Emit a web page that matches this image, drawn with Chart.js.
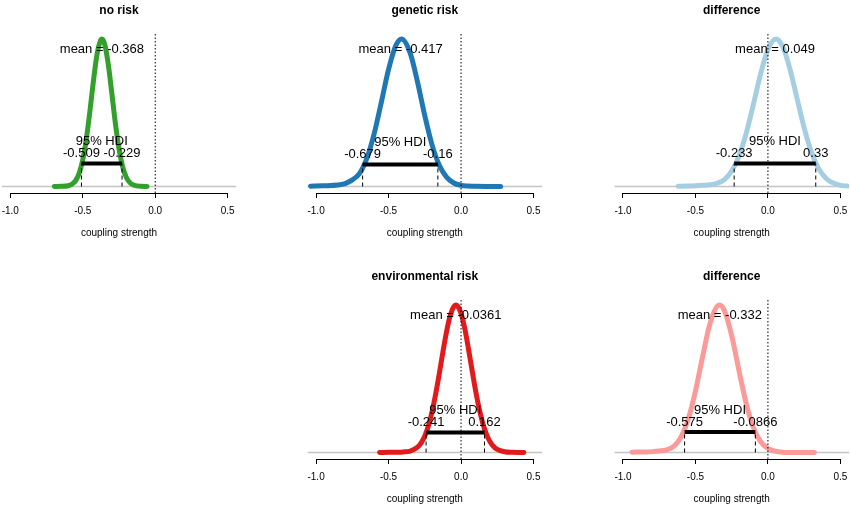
<!DOCTYPE html>
<html>
<head>
<meta charset="utf-8">
<script src="https://cdn.jsdelivr.net/npm/chart.js@4.4.1/dist/chart.umd.min.js"></script>
<style>
body { margin: 0; background: #fff; width: 850px; height: 514px; overflow: hidden; position: relative; }
canvas { position: absolute; }
</style>
</head>
<body>
<canvas id="p0" width="259" height="250" style="left:-10px;top:0px"></canvas>
<canvas id="p1" width="259" height="250" style="left:295px;top:0px"></canvas>
<canvas id="p2" width="259" height="250" style="left:602px;top:0px"></canvas>
<canvas id="p3" width="259" height="250" style="left:295px;top:266px"></canvas>
<canvas id="p4" width="259" height="250" style="left:602px;top:266px"></canvas>
<script>
// panels, in the order they appear (top row, then bottom row)
const panelTitles = ['no risk', 'genetic risk', 'difference', 'environmental risk', 'difference'];
const means = [-0.368, -0.417, 0.049, -0.0361, -0.332];
const hdiLow = [-0.509, -0.679, -0.233, -0.241, -0.575];
const hdiHigh = [-0.229, -0.16, 0.33, 0.162, -0.0866];
const hdiHeight = [0.156, 0.149, 0.156, 0.136, 0.139];
const xTicks = [-1.0, -0.5, 0.0, 0.5];

// posterior densities, scaled so the peak is 1
const noRiskX = [-0.696, -0.65, -0.60, -0.575, -0.55, -0.525, -0.50, -0.475, -0.45, -0.425, -0.40, -0.375, -0.368, -0.35, -0.325, -0.30, -0.275, -0.25, -0.225, -0.20, -0.175, -0.15, -0.10, -0.057];
const noRiskY = [0, 0.001, 0.005, 0.015, 0.039, 0.089, 0.181, 0.325, 0.517, 0.727, 0.905, 0.995, 1, 0.969, 0.834, 0.636, 0.428, 0.256, 0.135, 0.063, 0.026, 0.01, 0.001, 0];

const geneticX = [-1.038, -0.95, -0.85, -0.80, -0.75, -0.70, -0.65, -0.60, -0.55, -0.50, -0.45, -0.41, -0.35, -0.30, -0.25, -0.20, -0.15, -0.10, -0.05, 0.00, 0.05, 0.10, 0.18, 0.273];
const geneticY = [0.002, 0.005, 0.01, 0.02, 0.045, 0.089, 0.191, 0.355, 0.57, 0.793, 0.955, 1, 0.902, 0.707, 0.48, 0.282, 0.144, 0.064, 0.024, 0.008, 0.003, 0.001, 0, 0];

const diffGenX = [-0.62, -0.55, -0.50, -0.45, -0.40, -0.35, -0.30, -0.25, -0.20, -0.15, -0.10, -0.05, 0.00, 0.055, 0.10, 0.15, 0.20, 0.25, 0.30, 0.35, 0.40, 0.45, 0.50, 0.55];
const diffGenY = [0.002, 0.003, 0.005, 0.008, 0.012, 0.022, 0.047, 0.105, 0.206, 0.36, 0.558, 0.765, 0.929, 1, 0.952, 0.803, 0.6, 0.398, 0.233, 0.121, 0.056, 0.023, 0.008, 0.003];

const envX = [-0.562, -0.50, -0.45, -0.40, -0.35, -0.30, -0.275, -0.25, -0.225, -0.20, -0.175, -0.15, -0.125, -0.10, -0.075, -0.05, -0.035, -0.025, 0.00, 0.025, 0.05, 0.075, 0.10, 0.125, 0.15, 0.175, 0.20, 0.225, 0.25, 0.30, 0.35, 0.433];
const envY = [0, 0.001, 0.002, 0.004, 0.01, 0.036, 0.065, 0.112, 0.181, 0.276, 0.396, 0.535, 0.682, 0.819, 0.927, 0.989, 1, 0.995, 0.944, 0.843, 0.71, 0.564, 0.422, 0.298, 0.198, 0.124, 0.073, 0.041, 0.021, 0.005, 0.001, 0];

const diffEnvX = [-0.938, -0.85, -0.80, -0.75, -0.70, -0.65, -0.60, -0.55, -0.50, -0.45, -0.40, -0.335, -0.30, -0.25, -0.20, -0.15, -0.10, -0.05, 0.00, 0.05, 0.10, 0.20, 0.32];
const diffEnvY = [0.002, 0.004, 0.006, 0.01, 0.018, 0.041, 0.104, 0.226, 0.416, 0.653, 0.873, 1, 0.961, 0.792, 0.556, 0.332, 0.169, 0.073, 0.027, 0.009, 0.002, 0, 0];

const curveX = [noRiskX, geneticX, diffGenX, envX, diffEnvX];
const curveY = [noRiskY, geneticY, diffGenY, envY, diffEnvY];

// styling
const colors = ['#33a02c', '#1f78b4', '#a6cee3', '#e31a1c', '#fb9a99'];
const padLeft = [11.6, 12.4, 12.3, 12.4, 12.3];
const FONT = '"Liberation Sans", Arial, sans-serif';
const X_MIN = -1.06, X_MAX = 0.56, Y_MIN = -0.044, Y_MAX = 1.047;

// axis line (only between first and last tick, like R) and the text labels
const annotate = {
    id: 'annotate',
    afterDatasetsDraw(chart, args, opts) {
        const {ctx, chartArea} = chart;
        const x = chart.scales.x, y = chart.scales.y;
        const i = opts.idx;
        ctx.save();
        ctx.strokeStyle = '#000';
        ctx.lineWidth = 1;
        ctx.beginPath();
        ctx.moveTo(x.getPixelForValue(xTicks[0]), chartArea.bottom + 0.5);
        ctx.lineTo(x.getPixelForValue(xTicks[xTicks.length - 1]), chartArea.bottom + 0.5);
        ctx.stroke();

        ctx.fillStyle = '#000';
        ctx.font = '13px ' + FONT;
        ctx.textAlign = 'center';
        ctx.textBaseline = 'middle';
        ctx.fillText('mean = ' + means[i], x.getPixelForValue(means[i]), y.getPixelForValue(0.93));
        const by = y.getPixelForValue(hdiHeight[i]);
        ctx.fillText('95% HDI', x.getPixelForValue((hdiLow[i] + hdiHigh[i]) / 2), by - 22);
        ctx.fillText(String(hdiLow[i]), x.getPixelForValue(hdiLow[i]), by - 10);
        ctx.fillText(String(hdiHigh[i]), x.getPixelForValue(hdiHigh[i]), by - 10);
        ctx.restore();
    }
};

for (let i = 0; i < panelTitles.length; i++) {
    const ctx = document.getElementById('p' + i).getContext('2d');
    const curve = curveX[i].map((v, k) => ({x: v, y: curveY[i][k]}));
    new Chart(ctx, {
        type: 'line',
        data: {
            datasets: [
                // 95% HDI bar
                { data: [{x: hdiLow[i], y: hdiHeight[i]}, {x: hdiHigh[i], y: hdiHeight[i]}],
                  borderColor: '#000', borderWidth: 4, order: 0 },
                // dashed drops at the HDI limits
                { data: [{x: hdiLow[i], y: 0}, {x: hdiLow[i], y: hdiHeight[i]}],
                  borderColor: '#000', borderWidth: 1, borderDash: [4, 3], order: 1 },
                { data: [{x: hdiHigh[i], y: 0}, {x: hdiHigh[i], y: hdiHeight[i]}],
                  borderColor: '#000', borderWidth: 1, borderDash: [4, 3], order: 1 },
                // dotted line at zero
                { data: [{x: 0, y: Y_MIN}, {x: 0, y: Y_MAX}],
                  borderColor: '#000', borderWidth: 1, borderDash: [1.5, 2], order: 2 },
                // the density
                { data: curve, borderColor: colors[i], borderWidth: 5,
                  cubicInterpolationMode: 'monotone', borderCapStyle: 'round',
                  borderJoinStyle: 'round', order: 3 },
                // grey baseline
                { data: [{x: X_MIN, y: 0}, {x: X_MAX, y: 0}],
                  borderColor: '#c4c4c4', borderWidth: 1.5, order: 4 }
            ]
        },
        options: {
            responsive: false,
            animation: false,
            events: [],
            elements: { point: { radius: 0 } },
            layout: { padding: { left: padLeft[i], right: 259 - padLeft[i] - 234.8, top: 0, bottom: 0 } },
            plugins: {
                legend: { display: false },
                tooltip: { enabled: false },
                title: { display: true, text: panelTitles[i], color: '#000',
                         font: { size: 12, weight: 'bold', family: FONT },
                         padding: { top: 3.3, bottom: 14.3 } },
                annotate: { idx: i }
            },
            scales: {
                x: {
                    type: 'linear', min: X_MIN, max: X_MAX,
                    afterBuildTicks: s => { s.ticks = xTicks.map(v => ({value: v})); },
                    afterFit: s => { s.height = 57; },
                    ticks: { callback: v => v.toFixed(1), color: '#000', padding: 7,
                             maxRotation: 0, autoSkip: false,
                             font: { size: 10, family: FONT } },
                    grid: { drawOnChartArea: false, drawTicks: true, tickLength: 5, color: '#000' },
                    border: { display: false },
                    title: { display: true, text: 'coupling strength', color: '#000',
                             font: { size: 10, family: FONT },
                             padding: { top: 0, bottom: 10.7 } }
                },
                y: { display: false, min: Y_MIN, max: Y_MAX }
            }
        },
        plugins: [annotate]
    });
}
</script>
</body>
</html>
